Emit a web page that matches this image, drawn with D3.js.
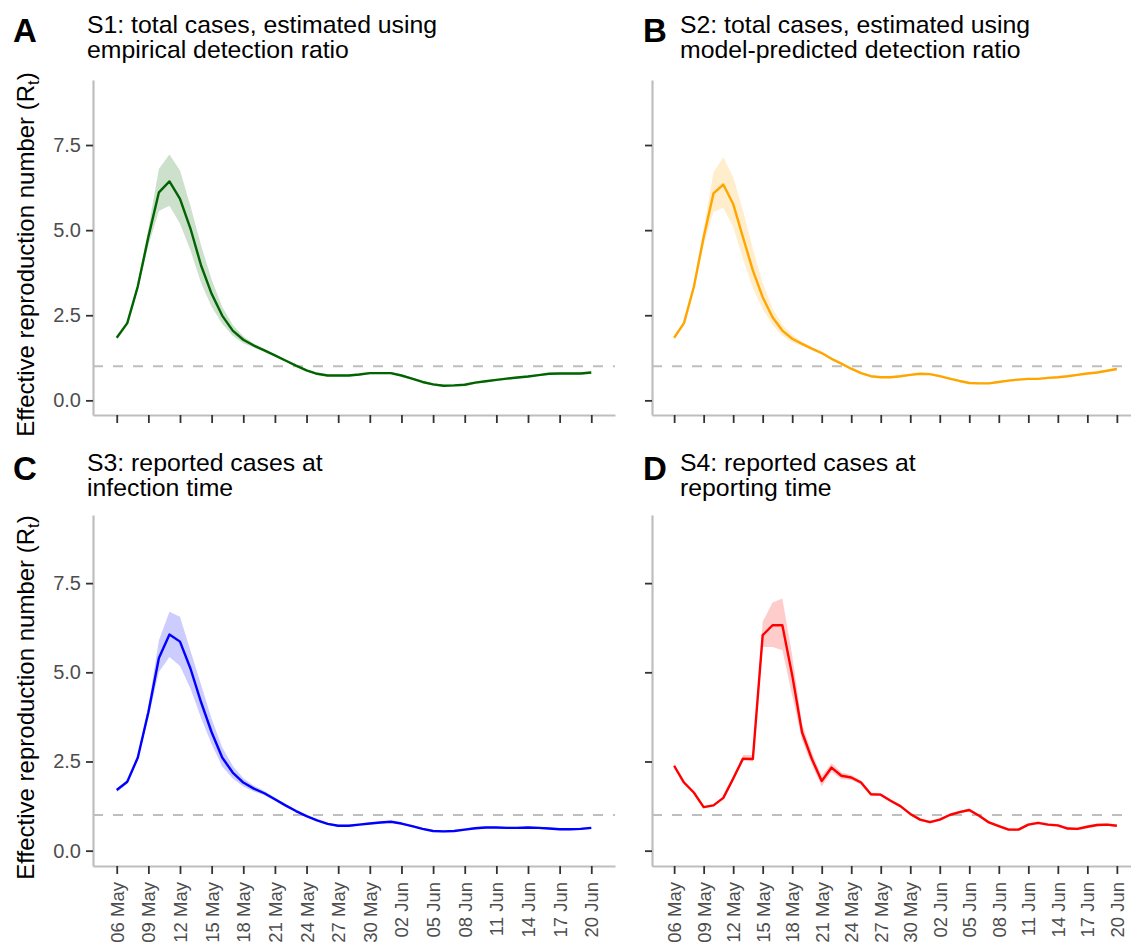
<!DOCTYPE html>
<html lang="en">
<head>
<meta charset="UTF-8">
<title>Rt scenarios</title>
<script src="https://cdnjs.cloudflare.com/ajax/libs/d3/7.8.5/d3.min.js"></script>
<style>
  body { margin: 0; background: #fff; }
  text { font-family: "Liberation Sans", Arial, sans-serif; }
</style>
</head>
<body>
<script>
// ---- data ----
var startDate = "2022-05-06"
var endDate = "2022-06-20"
var tickLabels = ["06 May","09 May","12 May","15 May","18 May","21 May","24 May","27 May",
                  "30 May","02 Jun","05 Jun","08 Jun","11 Jun","14 Jun","17 Jun","20 Jun"]

var s1Mean = [1.84,2.27,3.35,4.80,6.11,6.43,5.92,5.04,3.96,3.13,2.49,2.05,1.78,1.61,1.47,1.32,1.17,1.02,0.88,0.78,0.73,0.73,0.73,0.76,0.80,0.80,0.80,0.73,0.64,0.54,0.47,0.43,0.44,0.46,0.52,0.56,0.60,0.64,0.67,0.70,0.74,0.78,0.79,0.79,0.79,0.82]
var s1Hi   = [1.88,2.32,3.45,5.05,6.80,7.22,6.75,5.70,4.55,3.55,2.75,2.22,1.88,1.67,1.51,1.35,1.20,1.05,0.91,0.81,0.76,0.76,0.76,0.79,0.83,0.83,0.83,0.76,0.67,0.57,0.50,0.46,0.47,0.49,0.55,0.59,0.63,0.67,0.70,0.73,0.77,0.81,0.82,0.82,0.82,0.85]
var s1Lo   = [1.80,2.22,3.25,4.55,5.56,5.72,5.19,4.40,3.45,2.75,2.25,1.90,1.68,1.55,1.43,1.29,1.14,0.99,0.85,0.75,0.70,0.70,0.70,0.73,0.77,0.77,0.77,0.70,0.61,0.51,0.44,0.40,0.41,0.43,0.49,0.53,0.57,0.61,0.64,0.67,0.71,0.75,0.76,0.76,0.76,0.79]

var s2Mean = [1.84,2.27,3.33,4.79,6.08,6.34,5.77,4.79,3.82,3.03,2.44,2.05,1.81,1.66,1.52,1.39,1.22,1.08,0.93,0.80,0.71,0.68,0.68,0.71,0.75,0.78,0.77,0.71,0.64,0.57,0.51,0.50,0.50,0.54,0.58,0.61,0.63,0.63,0.66,0.68,0.71,0.75,0.79,0.82,0.87,0.92]
var s2Hi   = [1.88,2.32,3.45,5.05,6.70,7.14,6.55,5.58,4.45,3.45,2.70,2.22,1.92,1.72,1.56,1.42,1.25,1.11,0.96,0.83,0.74,0.71,0.71,0.74,0.78,0.81,0.80,0.74,0.67,0.60,0.54,0.53,0.53,0.57,0.61,0.64,0.66,0.66,0.69,0.71,0.74,0.78,0.82,0.85,0.90,0.95]
var s2Lo   = [1.80,2.22,3.22,4.55,5.53,5.66,5.09,4.15,3.30,2.68,2.22,1.90,1.70,1.60,1.48,1.36,1.19,1.05,0.90,0.77,0.68,0.65,0.65,0.68,0.72,0.75,0.74,0.68,0.61,0.54,0.48,0.47,0.47,0.51,0.55,0.58,0.60,0.60,0.63,0.65,0.68,0.72,0.76,0.79,0.84,0.89]

var s3Mean = [1.70,1.93,2.61,3.88,5.40,6.06,5.86,5.10,4.16,3.32,2.61,2.19,1.91,1.74,1.61,1.44,1.27,1.11,0.97,0.85,0.75,0.70,0.70,0.73,0.76,0.79,0.81,0.76,0.69,0.61,0.55,0.54,0.55,0.59,0.63,0.65,0.65,0.64,0.64,0.65,0.64,0.62,0.60,0.60,0.61,0.64]
var s3Hi   = [1.74,1.97,2.68,4.05,5.90,6.70,6.56,5.60,4.65,3.70,2.90,2.38,2.03,1.82,1.67,1.49,1.31,1.14,1.00,0.88,0.78,0.73,0.73,0.76,0.79,0.82,0.84,0.79,0.72,0.64,0.58,0.57,0.58,0.62,0.66,0.68,0.68,0.67,0.67,0.68,0.67,0.65,0.63,0.63,0.64,0.67]
var s3Lo   = [1.64,1.88,2.54,3.72,5.01,5.43,5.18,4.54,3.72,2.98,2.36,2.02,1.80,1.66,1.55,1.39,1.23,1.08,0.94,0.82,0.72,0.67,0.67,0.70,0.73,0.76,0.78,0.73,0.66,0.58,0.52,0.51,0.52,0.56,0.60,0.62,0.62,0.61,0.61,0.62,0.61,0.59,0.57,0.57,0.58,0.61]

var s4Mean = [2.38,1.91,1.63,1.22,1.27,1.48,2.02,2.58,2.57,6.04,6.32,6.32,4.92,3.32,2.57,1.95,2.33,2.10,2.05,1.91,1.58,1.57,1.40,1.25,1.03,0.87,0.80,0.87,1.00,1.08,1.14,0.98,0.79,0.69,0.59,0.59,0.73,0.78,0.73,0.71,0.62,0.61,0.67,0.72,0.73,0.70]
var s4Hi   = [2.45,1.96,1.67,1.25,1.30,1.52,2.07,2.68,2.68,6.42,6.96,7.07,5.48,3.55,2.75,2.10,2.45,2.20,2.12,1.97,1.63,1.61,1.44,1.29,1.07,0.91,0.84,0.91,1.04,1.12,1.18,1.02,0.83,0.73,0.63,0.63,0.77,0.82,0.77,0.75,0.66,0.65,0.71,0.76,0.77,0.74]
var s4Lo   = [2.31,1.86,1.59,1.19,1.24,1.44,1.97,2.52,2.50,5.71,5.71,5.62,4.35,3.10,2.40,1.80,2.21,2.00,1.98,1.85,1.53,1.53,1.36,1.21,0.99,0.83,0.76,0.83,0.96,1.04,1.10,0.94,0.75,0.65,0.55,0.55,0.69,0.74,0.69,0.67,0.58,0.57,0.63,0.68,0.69,0.66]

var yTicks = [0, 2.5, 5, 7.5]
var threshold = 1

// ---- layout ----
var width = 1131, height = 949
var parse = d3.timeParse("%Y-%m-%d")
var fmt = d3.timeFormat("%d %b")
var t0 = parse(startDate), t1 = parse(endDate)
var dates = d3.timeDay.range(t0, d3.timeDay.offset(t1, 1))
var tickDates = dates.filter(function(d){ return tickLabels.indexOf(fmt(d)) >= 0 })

var panels = [
  { tag: "A", title: ["S1: total cases, estimated using", "empirical detection ratio"], color: "#006400",
    mean: s1Mean, lo: s1Lo, hi: s1Hi, x0: 93, x1: 615, y0: 80, y1: 415, labels: true, bottom: false },
  { tag: "B", title: ["S2: total cases, estimated using", "model-predicted detection ratio"], color: "#FFA500",
    mean: s2Mean, lo: s2Lo, hi: s2Hi, x0: 652, x1: 1139, y0: 80, y1: 415, labels: false, bottom: false },
  { tag: "C", title: ["S3: reported cases at", "infection time"], color: "#0000FF",
    mean: s3Mean, lo: s3Lo, hi: s3Hi, x0: 93, x1: 615, y0: 515, y1: 866, labels: true, bottom: true },
  { tag: "D", title: ["S4: reported cases at", "reporting time"], color: "#FF0000",
    mean: s4Mean, lo: s4Lo, hi: s4Hi, x0: 652, x1: 1139, y0: 515, y1: 866, labels: false, bottom: true }
]

var svg = d3.select("body").append("svg")
  .attr("width", width)
  .attr("height", height)

var pad = 2.25 // ggplot-like 5% expansion on 45 days
panels.forEach(function(p) {
  var x = d3.scaleTime()
    .domain([d3.timeHour.offset(t0, -pad * 24), d3.timeHour.offset(t1, pad * 24)])
    .range([p.x0, p.x1])
  var y = d3.scaleLinear().domain([-0.43, 9.41]).range([p.y1, p.y0])

  var g = svg.append("g")

  // tag and title
  var tagX = p.labels ? p.x0 - 80 : p.x0 - 9
  var titleX = p.labels ? p.x0 - 6 : p.x0 + 28
  var top = p.bottom ? p.y0 - 44 : p.y0 - 47
  g.append("text").attr("x", tagX).attr("y", top + 9)
    .attr("font-size", 33).attr("font-weight", "bold").text(p.tag)
  p.title.forEach(function(line, i) {
    g.append("text").attr("x", titleX).attr("y", top + i * 25)
      .attr("font-size", 24.8).attr("fill", "#000").text(line)
  })

  // reference line
  g.append("line")
    .attr("x1", p.x0).attr("x2", p.x1)
    .attr("y1", y(threshold)).attr("y2", y(threshold))
    .attr("stroke", "#BEBEBE").attr("stroke-width", 2).attr("stroke-dasharray", "10,10")

  // ribbon + line
  var area = d3.area()
    .x(function(d, i){ return x(dates[i]) })
    .y0(function(d, i){ return y(p.lo[i]) })
    .y1(function(d, i){ return y(p.hi[i]) })
  g.append("path").datum(p.mean).attr("d", area)
    .attr("fill", p.color).attr("fill-opacity", 0.2)

  var line = d3.line()
    .x(function(d, i){ return x(dates[i]) })
    .y(function(d){ return y(d) })
  g.append("path").datum(p.mean).attr("d", line)
    .attr("fill", "none").attr("stroke", p.color).attr("stroke-width", 2.4)
    .attr("stroke-linejoin", "round")

  // y axis
  var ya = g.append("g").attr("transform", "translate(" + p.x0 + ",0)")
    .call(d3.axisLeft(y).tickValues(yTicks).tickSize(7).tickSizeOuter(0).tickPadding(5)
      .tickFormat(p.labels ? d3.format(".1f") : ""))
  // x axis
  var xa = g.append("g").attr("transform", "translate(0," + p.y1 + ")")
    .call(d3.axisBottom(x).tickValues(tickDates).tickSize(8).tickSizeOuter(0)
      .tickFormat(p.bottom ? fmt : ""))

  ;[ya, xa].forEach(function(a) {
    a.select(".domain").attr("stroke", "#BEBEBE").attr("stroke-width", 2.2)
    a.selectAll(".tick line").attr("stroke", "#333").attr("stroke-width", 1.8)
    a.selectAll(".tick text").attr("fill", "#4D4D4D")
      .attr("font-family", "Liberation Sans, Arial, sans-serif")
  })
  ya.selectAll(".tick text").attr("font-size", 20)
  xa.selectAll(".tick text")
    .attr("font-size", 18.5)
    .attr("transform", "rotate(-90)")
    .attr("text-anchor", "end")
    .attr("x", -16).attr("y", 0).attr("dy", "0.35em")

  // y title
  if (p.labels) {
    var cy = (p.y0 + p.y1) / 2 + 7
    var t = g.append("text")
      .attr("transform", "translate(34," + cy + ") rotate(-90)")
      .attr("text-anchor", "middle").attr("font-size", 24).attr("fill", "#000")
    t.append("tspan").text("Effective reproduction number (R")
    t.append("tspan").attr("font-size", 16.5).attr("dy", 5).text("t")
    t.append("tspan").attr("dy", -5).text(")")
  }
})
</script>
</body>
</html>
